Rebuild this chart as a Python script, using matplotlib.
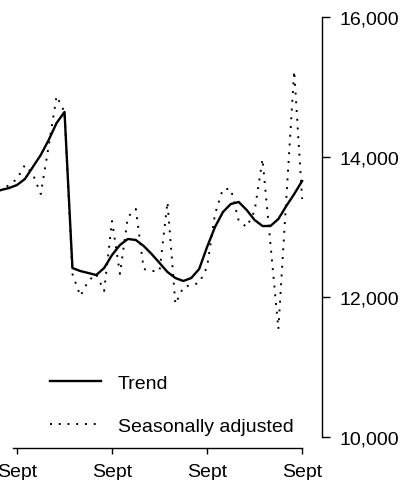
import matplotlib
matplotlib.use("Agg")
import matplotlib.pyplot as plt
from matplotlib.ticker import FuncFormatter

plt.rcParams["font.family"] = ["Liberation Sans", "DejaVu Sans"]

# months counted from the first September shown (0 = Sept)
months = list(range(-3, 37))

trend = [13500, 13529, 13557, 13600, 13686, 13857, 14029, 14243, 14486, 14643,
         12414, 12371, 12343, 12314, 12414, 12600, 12743, 12829, 12814, 12729,
         12614, 12486, 12357, 12271, 12229, 12271, 12400, 12714, 13000, 13214,
         13329, 13357, 13243, 13100, 13014, 13014, 13114, 13300, 13471, 13657]

seas_adj = [13500, 13529, 13600, 13686, 13886, 13757, 13471, 14157, 14871, 14643,
            12329, 12014, 12229, 12329, 12086, 13086, 12329, 13143, 13257, 12400,
            12371, 12371, 13357, 11900, 12143, 12171, 12200, 12429, 13186, 13543,
            13543, 13086, 13000, 13229, 13971, 12757, 11543, 13400, 15229, 13400]

xtick_pos = [0, 12, 24, 36]
xtick_labels = ["Sept", "Sept", "Sept", "Sept"]
ytick_pos = [10000, 12000, 14000, 16000]

W, H = 403, 481
fig = plt.figure(figsize=(W / 100, H / 100), dpi=100)
ax = fig.add_axes([0, (H - 449) / H, 322 / W, (449 - 18) / H])

ax.plot(months, trend, color="black", lw=1.7, label="Trend")
ax.plot(months, seas_adj, color="black", lw=1.4, ls=(0, (1, 3.5)),
        label="Seasonally adjusted")

ax.set_xlim(-2.146, 38.51)
ax.set_ylim(9843, 16000)

for s in ["top", "left"]:
    ax.spines[s].set_visible(False)
ax.spines["right"].set_bounds(10000, 16000)
ax.spines["bottom"].set_bounds(-0.5, 36)
ax.spines["right"].set_linewidth(1.0)
ax.spines["bottom"].set_linewidth(1.0)

ax.yaxis.tick_right()
ax.set_yticks(ytick_pos)
ax.yaxis.set_major_formatter(FuncFormatter(lambda v, p: f"{int(v):,}"))
ax.set_xticks(xtick_pos)
ax.set_xticklabels(xtick_labels)
ax.tick_params(axis="y", length=5.8, width=1.0, pad=7, labelsize=14)
ax.tick_params(axis="x", length=4.3, width=1.0, pad=6.5, labelsize=14)

ax.legend(loc="lower left", bbox_to_anchor=(50 / W, (H - 436) / H),
          bbox_transform=fig.transFigure, frameon=False, fontsize=14,
          handlelength=2.6, handletextpad=0.9, labelspacing=1.3,
          borderpad=0, borderaxespad=0)

fig.savefig("out.png", dpi=100)
